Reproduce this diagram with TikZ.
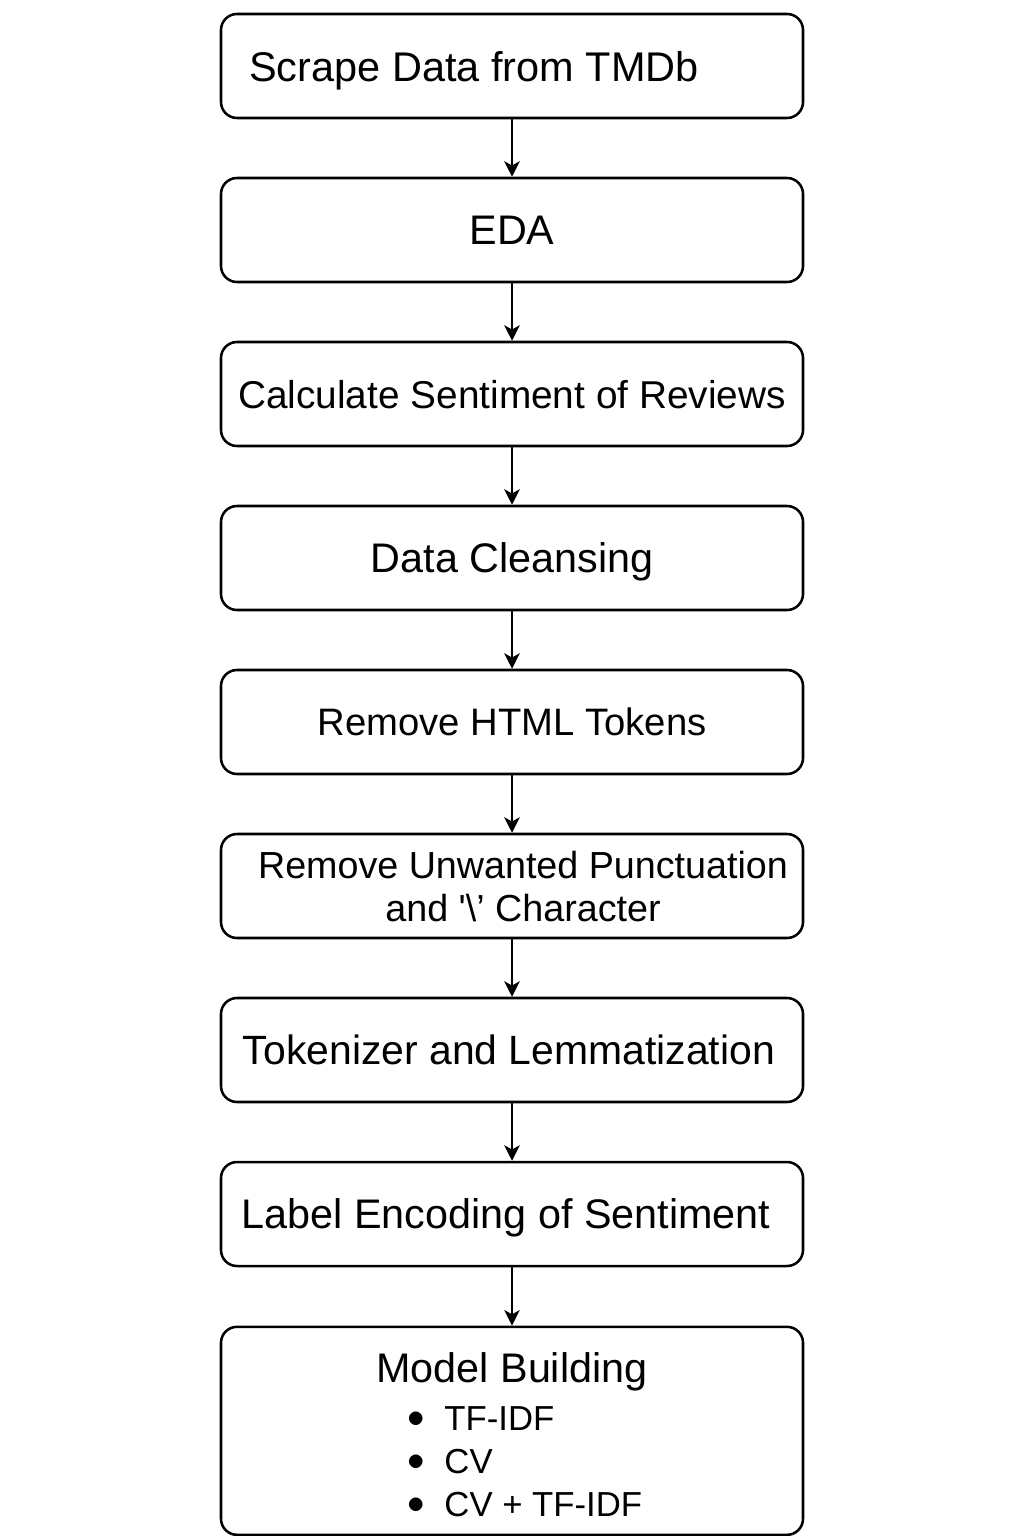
\documentclass[tikz,border=0pt]{standalone}
\usepackage{fontspec}
\setmainfont{Liberation Sans}
\usetikzlibrary{positioning,arrows.meta}

\begin{document}
\begin{tikzpicture}[node distance=4.1cm,auto,
    stagebase/.style={draw, line width=1.8pt, rounded corners=0.4cm, fill=white,
      minimum width=14.55cm, minimum height=2.6cm, align=center,
      font=\fontsize{29.4}{34}\selectfont},
    stage/.style={stagebase, text depth=0pt},
    >={Stealth[length=11pt,width=11pt,inset=3pt]}]
        \useasboundingbox (0,0) rectangle (25.6,-38.4);
        \node[stage, font=\fontsize{29.5}{35}\selectfont] (scrape) at (12.8,-1.65) {Scrape Data from TMDb\hspace{1.9cm}};
        \node[stage, below of=scrape] (eda) {EDA};
        \node[stage, below of=eda, font=\fontsize{27.6}{33}\selectfont] (senti) {Calculate Sentiment of Reviews};
        \node[stage, below of=senti] (cleanse) {Data Cleansing};
        \node[stage, below of=cleanse, font=\fontsize{27.2}{33}\selectfont] (html) {Remove HTML Tokens};
        \node[stage, below of=html, font=\fontsize{26.8}{30.6}\selectfont] (punct) {\hspace{0.55cm}Remove Unwanted Punctuation\\\hspace{0.55cm}and \textquotesingle\textbackslash’ Character};
        \node[stage, below of=punct, font=\fontsize{29.1}{34}\selectfont] (token) {Tokenizer and Lemmatization\hspace{0.15cm}};
        \node[stage, below of=token] (encode) {Label Encoding of Sentiment\hspace{0.3cm}};
        \node[stagebase, below of=encode, node distance=5.42cm, minimum height=5.2cm] (model) {\rule{0pt}{36pt}Model Building\\
            \hspace{0.65cm}{\fontsize{24.7}{30.6}\selectfont\begin{tabular}[t]{@{}l@{}}
            \raisebox{0.1em}{$\bullet$}\hspace{0.55em}TF-IDF\\
            \raisebox{0.1em}{$\bullet$}\hspace{0.55em}CV\\
            \raisebox{0.1em}{$\bullet$}\hspace{0.55em}CV + TF-IDF
            \end{tabular}}};

        \draw[->, line width=1.4pt] (scrape) -- (eda);
        \draw[->, line width=1.4pt] (eda) -- (senti);
        \draw[->, line width=1.4pt] (senti) -- (cleanse);
        \draw[->, line width=1.4pt] (cleanse) -- (html);
        \draw[->, line width=1.4pt] (html) -- (punct);
        \draw[->, line width=1.4pt] (punct) -- (token);
        \draw[->, line width=1.4pt] (token) -- (encode);
        \draw[->, line width=1.4pt] (encode) -- (model);
    \end{tikzpicture}
\end{document}
